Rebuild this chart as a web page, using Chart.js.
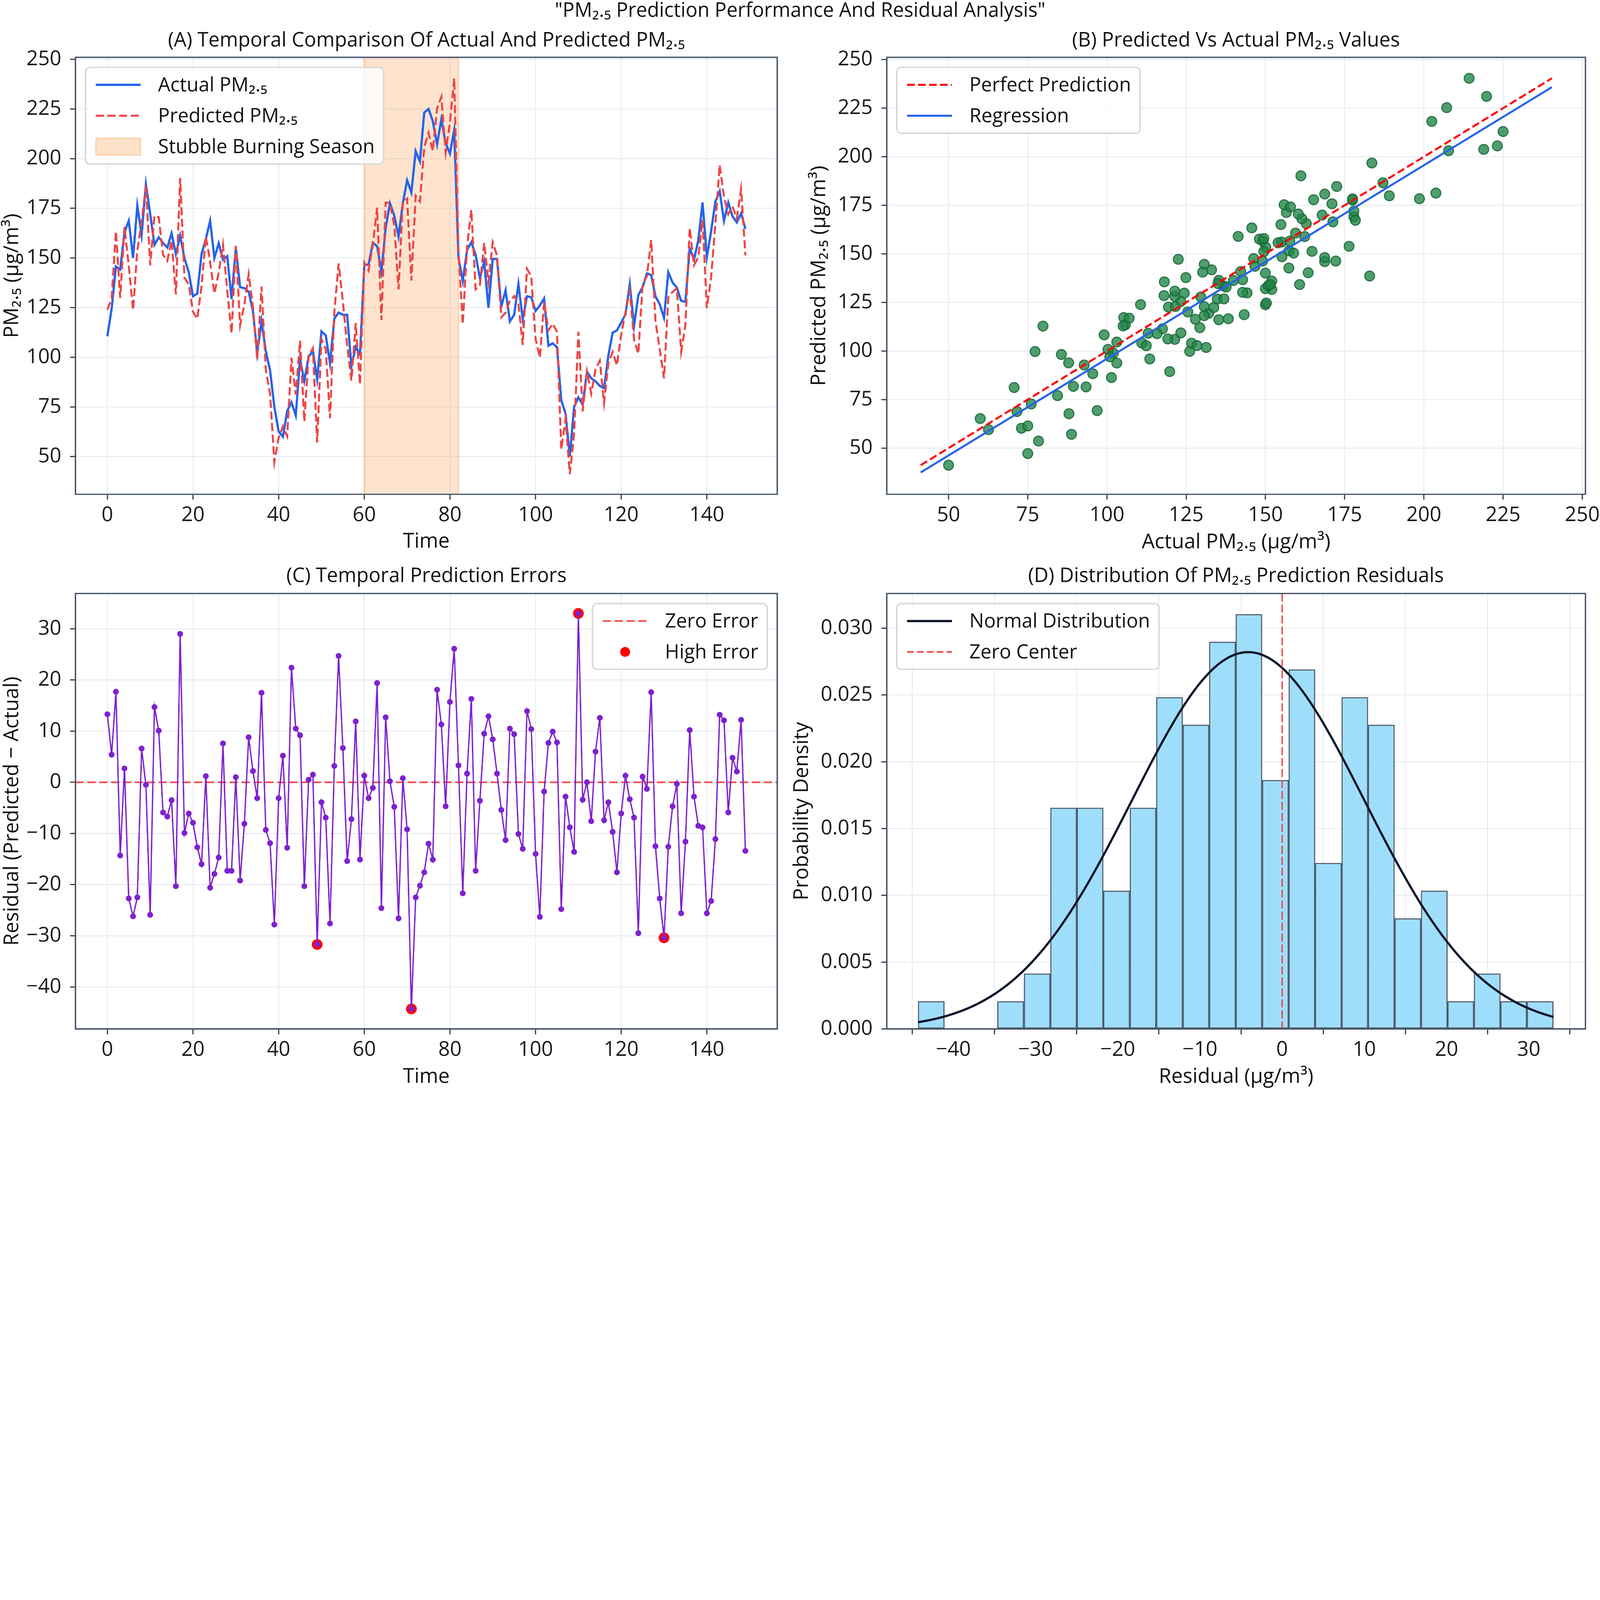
<!DOCTYPE html>
<html>
<head>
<meta charset="utf-8">
<script src="https://cdn.jsdelivr.net/npm/chart.js@4.4.1/dist/chart.umd.min.js"></script>
<style>
html, body { margin: 0; padding: 0; background: #fff; }
html { overflow: hidden; }
body { width: 7147px; height: 4870px; position: relative; overflow: hidden; transform-origin: 0 0;
       font-family: 'Open Sans', 'Noto Sans', 'DejaVu Sans', sans-serif; color: #111; }
.ttl { position: absolute; white-space: nowrap; transform: translate(-50%, -50%); line-height: 1; }
.panel { position: absolute; }
</style>
</head>
<body>
<div class="ttl" style="left:3574px; top:41px; font-size:88px">"PM₂.₅ Prediction Performance And Residual Analysis"</div>
<div class="ttl" style="left:1905px; top:173px; font-size:89px">(A) Temporal Comparison Of Actual And Predicted PM₂.₅</div>
<div class="ttl" style="left:5521px; top:173px; font-size:89px">(B) Predicted Vs Actual PM₂.₅ Values</div>
<div class="ttl" style="left:1905px; top:2566px; font-size:89px">(C) Temporal Prediction Errors</div>
<div class="ttl" style="left:5521px; top:2566px; font-size:89px">(D) Distribution Of PM₂.₅ Prediction Residuals</div>

<div class="panel" id="pA"><canvas id="chartA"></canvas></div>
<div class="panel" id="pB"><canvas id="chartB"></canvas></div>
<div class="panel" id="pC"><canvas id="chartC"></canvas></div>
<div class="panel" id="pD"><canvas id="chartD"></canvas></div>

<script>
// values
const time = Array.from({ length: 150 }, (_, i) => i);

const actual = [
  110.6, 124.4, 145.7, 144.2, 162.9, 168.7, 150.0, 176.4, 161.5, 187.1,
  172.2, 156.6, 160.4, 157.5, 155.2, 162.4, 152.0, 161.2, 150.0, 142.8,
  130.7, 132.1, 152.0, 159.5, 168.7, 150.0, 157.4, 149.1, 150.9, 129.3,
  155.1, 135.3, 134.8, 133.0, 123.3, 102.0, 118.1, 103.1, 93.4, 75.0,
  62.6, 60.0, 73.0, 77.3, 70.7, 99.1, 88.0, 100.3, 103.1, 88.8,
  113.0, 111.0, 96.9, 119.4, 122.5, 121.4, 121.4, 95.5, 105.3, 101.4,
  146.3, 146.7, 157.7, 155.9, 143.3, 165.2, 177.5, 171.3, 160.8, 177.5,
  189.1, 182.9, 203.8, 198.6, 223.2, 225.0, 218.9, 207.2, 219.8, 207.8,
  202.5, 214.3, 150.1, 138.3, 154.0, 157.9, 151.5, 139.9, 148.1, 124.9,
  149.5, 149.5, 125.5, 133.7, 118.0, 121.4, 136.9, 119.2, 130.7, 130.2,
  123.3, 126.1, 129.6, 105.8, 107.0, 105.1, 78.4, 71.6, 50.0, 75.0,
  79.8, 76.1, 92.8, 89.4, 87.9, 85.6, 84.4, 100.9, 112.4, 113.5,
  117.5, 121.6, 136.8, 115.8, 131.3, 135.3, 142.2, 141.4, 130.7, 126.7,
  119.8, 142.8, 137.6, 135.0, 128.4, 127.9, 154.9, 149.1, 158.9, 177.9,
  150.3, 163.5, 178.4, 183.6, 168.7, 177.9, 171.0, 167.9, 172.5, 164.7
];

const predicted = [
  123.9, 129.8, 163.4, 129.9, 165.6, 146.0, 123.8, 153.9, 168.1, 186.6,
  146.3, 171.3, 170.5, 151.6, 148.5, 158.9, 131.7, 190.2, 140.1, 136.7,
  122.8, 119.4, 136.0, 160.7, 148.1, 132.1, 142.7, 156.7, 133.6, 112.0,
  156.1, 116.1, 126.7, 141.8, 125.5, 98.9, 135.6, 93.8, 81.5, 47.2,
  59.5, 65.2, 60.2, 99.7, 81.2, 108.3, 67.7, 100.8, 104.6, 57.1,
  109.1, 104.1, 69.3, 122.6, 147.2, 128.1, 106.0, 88.3, 117.2, 86.3,
  147.6, 143.6, 156.6, 175.3, 118.7, 177.9, 177.7, 166.5, 134.2, 178.3,
  179.9, 138.6, 181.3, 178.4, 205.6, 213.0, 203.8, 225.3, 231.1, 203.1,
  218.2, 240.4, 153.4, 116.6, 155.7, 174.2, 134.2, 136.3, 157.6, 137.8,
  157.9, 151.2, 120.1, 122.4, 128.5, 130.8, 126.8, 106.2, 144.6, 140.6,
  109.3, 99.8, 127.8, 113.5, 116.9, 112.9, 53.6, 68.8, 41.2, 61.4,
  112.8, 72.7, 92.8, 81.8, 93.9, 98.2, 77.0, 97.0, 102.7, 95.9,
  111.4, 122.9, 133.5, 108.9, 101.8, 136.4, 140.9, 159.0, 118.2, 104.0,
  89.4, 130.2, 132.9, 134.7, 102.8, 116.3, 165.1, 146.3, 150.4, 169.1,
  124.7, 140.3, 167.3, 196.8, 180.8, 172.0, 175.8, 170.0, 184.7, 151.3
];

// residual histogram, 24 equal bins between the smallest and largest residual
const histCounts = [1, 0, 0, 1, 2, 8, 8, 5, 8, 12, 11, 14, 15, 9, 13, 6, 12, 11, 4, 5, 1, 2, 1, 1];

const seasonStart = 60;
const seasonEnd = 82;
const highErrorLimit = 30;

const timeTicks = [0, 20, 40, 60, 80, 100, 120, 140];
const pmTicks = [50, 75, 100, 125, 150, 175, 200, 225, 250];
const residTicks = [-40, -30, -20, -10, 0, 10, 20, 30];
const densityTicks = [0, 0.005, 0.010, 0.015, 0.020, 0.025, 0.030];

// derived series
const N = actual.length;
const residual = predicted.map((p, i) => p - actual[i]);
const highErr = time.filter(i => Math.abs(residual[i]) > highErrorLimit);

const allVals = actual.concat(predicted);
const lo = Math.min(...allVals), hi = Math.max(...allVals);
const mx = actual.reduce((s, v) => s + v, 0) / N;
const my = predicted.reduce((s, v) => s + v, 0) / N;
let sxy = 0, sxx = 0;
actual.forEach((a, i) => { sxy += (a - mx) * (predicted[i] - my); sxx += (a - mx) ** 2; });
const slope = sxy / sxx, icpt = my - slope * mx;

const rMin = Math.min(...residual), rMax = Math.max(...residual);
const binW = (rMax - rMin) / histCounts.length;
const mu = residual.reduce((s, v) => s + v, 0) / N;
const sigma = Math.sqrt(residual.reduce((s, v) => s + (v - mu) ** 2, 0) / N);
const curve = [];
for (let k = 0; k <= 200; k++) {
  const x = rMin + (rMax - rMin) * k / 200;
  curve.push({ x, y: Math.exp(-0.5 * ((x - mu) / sigma) ** 2) / (sigma * Math.sqrt(2 * Math.PI)) });
}

// ---- look
const FAMILY = "'Open Sans', 'Noto Sans', 'DejaVu Sans', sans-serif";
const FS = 91;
const LEG_FS = 87;
Chart.defaults.font.family = FAMILY;
Chart.defaults.font.size = FS;
Chart.defaults.font.lineHeight = 1.2;

const GRID = '#e6eaf0';
const SPINE = '#475569';
const PAD_TOP = 130, PAD_RIGHT = 130, XAXIS_H = 270;

// fit the 7147x4870 figure into whatever window the page gets
const fit = Math.min(1, window.innerWidth / 7147, window.innerHeight / 4870);
if (fit < 1) document.body.style.transform = 'scale(' + fit + ')';

const PLOT = {
  A: { L: 337, T: 256, R: 3472, B: 2208, cx: 0 },
  B: { L: 3961, T: 256, R: 7082, B: 2208, cx: 3500 },
  C: { L: 337, T: 2651, R: 3472, B: 4596, cx: 0 },
  D: { L: 3961, T: 2651, R: 7082, B: 4596, cx: 3500 }
};

for (const k in PLOT) {
  const p = PLOT[k];
  const el = document.getElementById('p' + k);
  el.style.left = p.cx + 'px';
  el.style.top = (p.T - PAD_TOP) + 'px';
  el.style.width = (p.R - p.cx + PAD_RIGHT) + 'px';
  el.style.height = (p.B - p.T + PAD_TOP + XAXIS_H) + 'px';
}

const minusFmt = v => (v < 0 ? '\u2212' + Math.abs(v) : String(v));

function scale(min, max, ticks, title, isX, size, titlePad, fmt) {
  return {
    type: 'linear', min, max, offset: false,
    afterBuildTicks: s => { s.ticks = ticks.map(v => ({ value: v })); },
    afterFit: s => { if (isX) s.height = size; else s.width = size; },
    grid: { color: GRID, lineWidth: 4, tickColor: '#333', tickWidth: 5, tickLength: 24 },
    border: { display: false },
    ticks: { padding: isX ? 15 : 39, color: '#1a1a1a', autoSkip: false, maxRotation: 0,
             callback: fmt || minusFmt },
    title: { display: true, text: title, color: '#111',
             padding: isX ? { top: 0, bottom: titlePad } : { top: titlePad, bottom: 0 } }
  };
}

const LEG = { inset: 45, padL: 46, sw: 200, gap: 78, padR: 40, first: 78, row: 138 };

function drawLegend(chart, items, side) {
  const { ctx, chartArea: a } = chart;
  ctx.save();
  ctx.font = `${LEG_FS}px ${FAMILY}`;
  const tw = Math.max(...items.map(it => ctx.measureText(it.label).width));
  const w = LEG.padL + LEG.sw + LEG.gap + tw + LEG.padR;
  const h = LEG.first * 2 + LEG.row * (items.length - 1);
  const x0 = side === 'right' ? a.right - LEG.inset - w : a.left + LEG.inset;
  const y0 = a.top + LEG.inset;
  ctx.beginPath();
  ctx.roundRect(x0, y0, w, h, 20);
  ctx.fillStyle = 'rgba(255,255,255,0.8)';
  ctx.fill();
  ctx.lineWidth = 6;
  ctx.strokeStyle = '#d6d6d6';
  ctx.stroke();
  items.forEach((it, i) => {
    const cy = y0 + LEG.first + i * LEG.row;
    const sx = x0 + LEG.padL;
    ctx.save();
    if (it.kind === 'patch') {
      ctx.fillStyle = it.fill;
      ctx.fillRect(sx, cy - 38, LEG.sw, 76);
      ctx.strokeStyle = it.color; ctx.lineWidth = 6;
      ctx.strokeRect(sx, cy - 38, LEG.sw, 76);
    } else if (it.kind === 'dot') {
      ctx.fillStyle = it.color;
      ctx.beginPath(); ctx.arc(sx + LEG.sw / 2, cy, 22, 0, Math.PI * 2); ctx.fill();
    } else {
      ctx.strokeStyle = it.color; ctx.lineWidth = it.width;
      ctx.setLineDash(it.dash || []);
      ctx.beginPath(); ctx.moveTo(sx, cy); ctx.lineTo(sx + LEG.sw, cy); ctx.stroke();
    }
    ctx.restore();
    ctx.fillStyle = '#111';
    ctx.textBaseline = 'middle';
    ctx.fillText(it.label, sx + LEG.sw + LEG.gap, cy + 4);
  });
  ctx.restore();
}

function framePlugin(items, side) {
  return {
    id: 'frame',
    afterDatasetsDraw(chart) {
      const { ctx, chartArea: a } = chart;
      ctx.save();
      ctx.strokeStyle = SPINE; ctx.lineWidth = 6;
      ctx.strokeRect(a.left, a.top, a.right - a.left, a.bottom - a.top);
      ctx.restore();
      drawLegend(chart, items, side);
    }
  };
}

function baseOptions() {
  return {
    responsive: true, maintainAspectRatio: false, animation: false, devicePixelRatio: 1, events: [],
    layout: { padding: { top: PAD_TOP, right: PAD_RIGHT, left: 0, bottom: 0 } },
    plugins: { legend: { display: false }, tooltip: { enabled: false }, title: { display: false } }
  };
}

// ---- (A) time series
const seasonPlugin = {
  id: 'season',
  beforeDatasetsDraw(chart) {
    const { ctx, chartArea: a, scales: { x } } = chart;
    const x1 = x.getPixelForValue(seasonStart), x2 = x.getPixelForValue(seasonEnd);
    ctx.save();
    ctx.fillStyle = 'rgba(251,146,60,0.25)';
    ctx.fillRect(x1, a.top, x2 - x1, a.bottom - a.top);
    ctx.strokeStyle = 'rgba(251,146,60,0.3)'; ctx.lineWidth = 7;
    ctx.beginPath();
    ctx.moveTo(x1, a.top); ctx.lineTo(x1, a.bottom);
    ctx.moveTo(x2, a.top); ctx.lineTo(x2, a.bottom);
    ctx.stroke();
    ctx.restore();
  }
};

const optA = baseOptions();
optA.scales = {
  x: scale(-7.45, 156.45, timeTicks, 'Time', true, XAXIS_H, 3),
  y: scale(31, 251, pmTicks, 'PM₂.₅ (µg/m³)', false, PLOT.A.L - PLOT.A.cx, 0)
};
new Chart(document.getElementById('chartA'), {
  type: 'scatter',
  data: {
    datasets: [
      { label: 'Predicted PM₂.₅', data: time.map(i => ({ x: i, y: predicted[i] })), showLine: true,
        borderColor: '#ef4444', borderWidth: 9, borderDash: [36, 16], pointRadius: 0 },
      { label: 'Actual PM₂.₅', data: time.map(i => ({ x: i, y: actual[i] })), showLine: true,
        borderColor: '#2563eb', borderWidth: 10, pointRadius: 0 }
    ]
  },
  options: optA,
  plugins: [seasonPlugin, framePlugin([
    { label: 'Actual PM₂.₅', kind: 'line', color: '#2563eb', width: 10 },
    { label: 'Predicted PM₂.₅', kind: 'line', color: '#ef4444', width: 9, dash: [36, 16] },
    { label: 'Stubble Burning Season', kind: 'patch', fill: 'rgba(251,146,60,0.28)', color: 'rgba(251,146,60,0.3)' }
  ], 'left')]
});

// ---- (B) scatter
const optB = baseOptions();
optB.scales = {
  x: scale(30.5, 251, pmTicks, 'Actual PM₂.₅ (µg/m³)', true, XAXIS_H, 0),
  y: scale(26.2, 251.2, pmTicks, 'Predicted PM₂.₅ (µg/m³)', false, PLOT.B.L - PLOT.B.cx, 105)
};
new Chart(document.getElementById('chartB'), {
  type: 'scatter',
  data: {
    datasets: [
      { label: 'Perfect Prediction', data: [{ x: lo, y: lo }, { x: hi, y: hi }], showLine: true,
        borderColor: '#ff0000', borderWidth: 9, borderDash: [34, 15], pointRadius: 0 },
      { label: 'Regression', data: [{ x: lo, y: icpt + slope * lo }, { x: hi, y: icpt + slope * hi }], showLine: true,
        borderColor: '#2563eb', borderWidth: 9, pointRadius: 0 },
      { label: 'Samples', data: actual.map((a, i) => ({ x: a, y: predicted[i] })),
        pointRadius: 22, pointBackgroundColor: 'rgba(34,134,74,0.8)',
        pointBorderColor: 'rgba(22,101,52,0.85)', pointBorderWidth: 5 }
    ]
  },
  options: optB,
  plugins: [framePlugin([
    { label: 'Perfect Prediction', kind: 'line', color: '#ff0000', width: 9, dash: [34, 15] },
    { label: 'Regression', kind: 'line', color: '#2563eb', width: 9 }
  ], 'left')]
});

// ---- (C) residuals over time
const zeroLinePlugin = {
  id: 'zeroH',
  beforeDatasetsDraw(chart) {
    const { ctx, chartArea: a, scales: { y } } = chart;
    const py = y.getPixelForValue(0);
    ctx.save();
    ctx.strokeStyle = '#ef4444'; ctx.lineWidth = 7; ctx.setLineDash([37, 16]);
    ctx.beginPath(); ctx.moveTo(a.left, py); ctx.lineTo(a.right, py); ctx.stroke();
    ctx.restore();
  }
};
const optC = baseOptions();
optC.scales = {
  x: scale(-7.45, 156.45, timeTicks, 'Time', true, XAXIS_H, 0),
  y: scale(-48.2, 36.9, residTicks, 'Residual (Predicted \u2212 Actual)', false, PLOT.C.L - PLOT.C.cx, 0)
};
new Chart(document.getElementById('chartC'), {
  type: 'scatter',
  data: {
    datasets: [
      { label: 'Residual', data: time.map(i => ({ x: i, y: residual[i] })), showLine: true,
        borderColor: '#7e22ce', borderWidth: 6, pointRadius: 13,
        pointBackgroundColor: '#7e22ce', pointBorderColor: '#7e22ce', pointBorderWidth: 0 },
      { label: 'High Error', data: highErr.map(i => ({ x: i, y: residual[i] })),
        pointRadius: 24, pointBackgroundColor: '#ff0000', pointBorderWidth: 0 }
    ]
  },
  options: optC,
  plugins: [zeroLinePlugin, framePlugin([
    { label: 'Zero Error', kind: 'line', color: '#ef4444', width: 7, dash: [37, 16] },
    { label: 'High Error', kind: 'dot', color: '#ff0000' }
  ], 'right')]
});

// ---- (D) residual distribution
const zeroVPlugin = {
  id: 'zeroV',
  afterDatasetsDraw(chart) {
    const { ctx, chartArea: a, scales: { x } } = chart;
    const px = x.getPixelForValue(0);
    ctx.save();
    ctx.strokeStyle = '#ef4444'; ctx.lineWidth = 6; ctx.setLineDash([36, 13]);
    ctx.beginPath(); ctx.moveTo(px, a.top); ctx.lineTo(px, a.bottom); ctx.stroke();
    ctx.restore();
  }
};
const bars = [];
histCounts.forEach((c, k) => {
  if (c > 0) bars.push({ x: rMin + binW * (k + 0.5), y: c / (N * binW) });
});
const optD = baseOptions();
optD.scales = {
  x: scale(-48.1, 36.9, residTicks, 'Residual (µg/m³)', true, XAXIS_H, 0),
  y: scale(0, 0.0326, densityTicks, 'Probability Density', false, PLOT.D.L - PLOT.D.cx, 28, v => v.toFixed(3))
};
new Chart(document.getElementById('chartD'), {
  type: 'bar',
  data: {
    datasets: [
      { type: 'line', label: 'Normal Distribution', data: curve, borderColor: '#0f172a',
        borderWidth: 10, pointRadius: 0, fill: false },
      { type: 'bar', label: 'Residuals', data: bars, backgroundColor: '#9fdefa',
        borderColor: 'rgba(51,65,85,0.85)', borderWidth: 5, borderSkipped: false,
        barPercentage: 1, categoryPercentage: 1 }
    ]
  },
  options: optD,
  plugins: [zeroVPlugin, framePlugin([
    { label: 'Normal Distribution', kind: 'line', color: '#0f172a', width: 10 },
    { label: 'Zero Center', kind: 'line', color: '#ef4444', width: 7, dash: [30, 14] }
  ], 'left')]
});
</script>
</body>
</html>
